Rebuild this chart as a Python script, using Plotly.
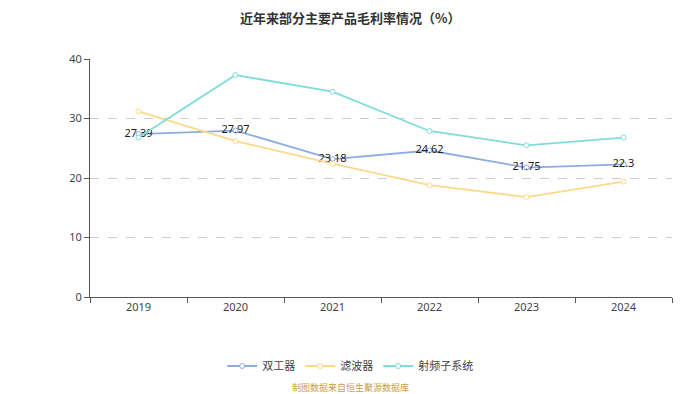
import plotly.graph_objects as go

years = ["2019", "2020", "2021", "2022", "2023", "2024"]
duplexer = [27.39, 27.97, 23.18, 24.62, 21.75, 22.3]
filt = [31.2, 26.2, 22.4, 18.8, 16.8, 19.4]
rf_sub = [26.8, 37.3, 34.5, 27.9, 25.5, 26.8]
y_ticks = [0, 10, 20, 30, 40]

font_family = "Noto Sans, Noto Sans CJK SC, sans-serif"

fig = go.Figure()
series = [
    ("双工器", duplexer, "#8eacdf", True),
    ("滤波器", filt, "#fdd98a", False),
    ("射频子系统", rf_sub, "#80dcdc", False),
]
for name, vals, color, labels in series:
    fig.add_trace(go.Scatter(
        x=years, y=vals, name=name,
        mode="lines+markers+text" if labels else "lines+markers",
        line=dict(color=color, width=1.8),
        marker=dict(symbol="circle", size=5, color="white",
                    line=dict(color=color, width=1)),
        text=[str(v) for v in vals] if labels else None,
        textposition="middle center",
        textfont=dict(size=11, color="#222", family=font_family),
        hoverinfo="x+y+name",
    ))

fig.update_layout(
    width=700, height=394,
    margin=dict(l=82, r=36, t=51, b=105),
    paper_bgcolor="white", plot_bgcolor="white",
    font=dict(family=font_family, size=11, color="#444"),
    showlegend=True,
    legend=dict(orientation="h", x=0.447, xanchor="center", y=-0.29, yanchor="middle",
                font=dict(size=11, color="#444", family="Noto Sans CJK SC"),
                itemwidth=30, traceorder="normal"),
    xaxis=dict(
        type="category", range=[-0.5, 5.5], showgrid=False,
        showline=True, linecolor="#555", linewidth=1,
        ticks="outside", ticklen=5, tickcolor="#555",
        tickson="boundaries", tickfont=dict(size=11, color="#444"),
        zeroline=False, fixedrange=True,
    ),
    yaxis=dict(
        range=[0, 40], tickvals=y_ticks, showgrid=True, gridcolor="#cccccc",
        griddash="dash", gridwidth=1,
        showline=True, linecolor="#555", linewidth=1,
        ticks="outside", ticklen=5, tickcolor="#555",
        tickfont=dict(size=11, color="#444"), zeroline=False,
    ),
)

fig.add_annotation(
    text="<b>近年来部分主要产品毛利率情况（%）</b>", xref="paper", yref="paper",
    x=0.447, y=1 + 41 / 238, xanchor="center", yanchor="middle", showarrow=False,
    font=dict(size=13, color="#333", family="Noto Sans CJK SC"),
)

fig.add_annotation(
    text="制图数据来自恒生聚源数据库", xref="paper", yref="paper",
    x=0.447, y=-0.382, xanchor="center", yanchor="middle", showarrow=False,
    font=dict(size=9, color="#c9a04a", family="Noto Sans CJK SC"),
)

fig.write_html("out.html")
